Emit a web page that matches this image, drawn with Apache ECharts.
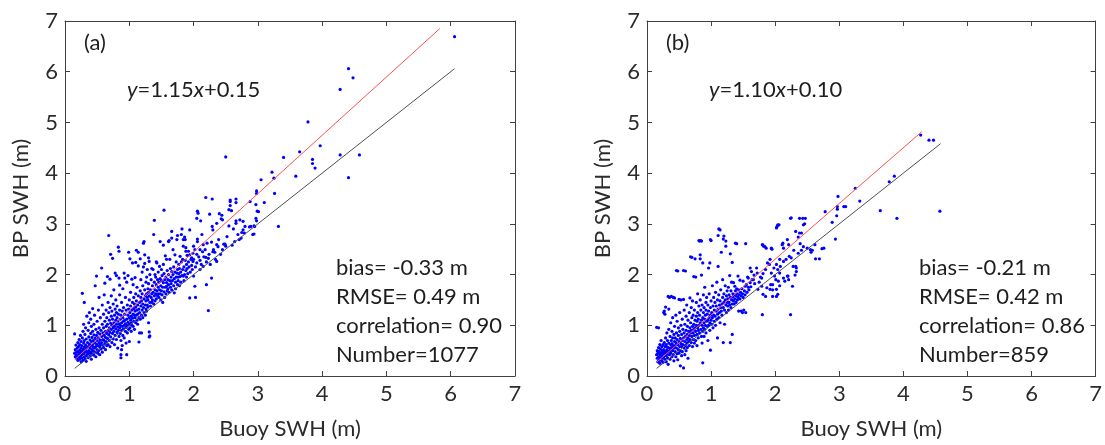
<!DOCTYPE html>
<html><head><meta charset="utf-8">
<script src="https://cdn.jsdelivr.net/npm/echarts@6/dist/echarts.min.js"></script>
<style>html,body{margin:0;padding:0;background:#fff}#c{width:1105px;height:445px}</style>
</head><body><div id="c"></div>
<script>
// ---------- data ----------
const tickLabels = ['0','1','2','3','4','5','6','7'];
const xTitle = 'Buoy SWH (m)';
const yTitle = 'BP SWH (m)';
const panelLabels = ['(a)', '(b)'];
const fitLabels = ['{i|y}=1.15{i|x}+0.15', '{i|y}=1.10{i|x}+0.10'];
const statsA = ['bias= -0.33 m', 'RMSE= 0.49 m', 'correlation= 0.90', 'Number=1077'];
const statsB = ['bias= -0.21 m', 'RMSE= 0.42 m', 'correlation= 0.86', 'Number=859'];

const oneToOneA = [[0.15, 0.15], [6.06, 6.06]];
const fitLineA = [[0.15, 0.32], [5.83, 6.85]];
const oneToOneB = [[0.15, 0.15], [4.58, 4.58]];
const fitLineB = [[0.15, 0.27], [4.29, 4.82]];

const pointsA = [
[0.15,0.83],[0.15,0.45],[0.16,0.38],[0.16,0.52],[0.17,0.42],[0.17,0.61],[0.18,0.35],[0.18,0.47],[0.19,0.55],[0.19,0.40],[0.2,0.31],[0.2,0.66],[0.2,0.48],[0.21,0.37],[0.21,0.58],[0.22,0.44],[0.22,0.72],[0.23,0.33],[0.23,0.51],[0.23,0.62],[0.24,0.39],[0.24,0.46],[0.24,0.8],[0.25,0.28],[0.25,0.55],[0.25,0.68],
[0.26,0.42],[0.26,0.36],[0.26,0.6],[0.27,0.49],[0.27,0.75],[0.27,1.63],[0.28,0.31],[0.28,0.53],[0.28,0.88],[0.29,0.44],[0.29,0.65],[0.29,1.02],[0.3,0.38],[0.3,0.57],[0.3,1.45],[0.3,0.7],[0.31,0.47],[0.31,0.34],[0.31,0.82],[0.32,0.52],[0.32,0.61],[0.32,0.95],[0.33,0.4],[0.33,0.73],[0.33,0.29],[0.34,0.56],[0.34,0.48],[0.34,1.18],[0.35,0.66],[0.35,0.43],
[0.36,0.36],[0.36,0.58],[0.36,0.9],[0.37,0.5],[0.37,0.77],[0.37,1.05],[0.38,0.45],[0.38,0.63],[0.38,1.25],[0.39,0.39],[0.39,0.71],[0.39,0.55],[0.4,0.84],[0.4,0.47],[0.4,0.6],[0.4,1.12],[0.41,0.33],[0.41,0.68],[0.41,0.98],[0.42,0.52],[0.42,0.76],[0.42,0.43],[0.43,0.62],[0.43,0.88],[0.43,1.33],[0.44,0.49],[0.44,0.7],[0.44,0.57],[0.45,0.81],[0.45,1.02],[0.45,0.41],
[0.46,0.55],[0.46,0.66],[0.46,1.2],[0.47,0.47],[0.47,0.74],[0.47,1.78],[0.48,0.58],[0.48,0.92],[0.48,0.38],[0.49,0.63],[0.49,0.8],[0.49,1.97],[0.5,0.52],[0.5,0.7],[0.5,1.08],[0.51,0.45],[0.51,0.86],[0.51,0.6],[0.52,0.75],[0.52,1.3],[0.52,0.5],[0.53,0.66],[0.53,0.95],[0.53,1.55],[0.54,0.57],[0.54,0.83],[0.54,0.42],[0.55,0.71],[0.55,1.15],[0.55,0.62],
[0.56,0.53],[0.56,0.9],[0.57,2.13],[0.57,0.78],[0.57,0.66],[0.58,1.02],[0.58,0.47],[0.58,1.4],[0.59,0.72],[0.59,0.6],[0.59,0.85],[0.6,1.22],[0.6,0.56],[0.6,0.95],[0.61,0.7],[0.61,1.6],[0.61,0.8],[0.62,1.83],[0.62,0.64],[0.62,1.08],[0.63,0.76],[0.63,0.88],[0.63,0.52],[0.64,1.3],[0.64,0.98],[0.64,0.68],[0.65,0.84],[0.65,1.15],[0.65,0.6],
[0.66,1.96],[0.66,0.74],[0.66,1.02],[0.67,0.9],[0.67,1.45],[0.67,0.62],[0.68,2.77],[0.68,0.81],[0.68,1.25],[0.69,1.1],[0.69,0.7],[0.69,0.95],[0.7,1.91],[0.7,0.58],[0.7,1.35],[0.7,0.86],[0.71,2.4],[0.71,1.04],[0.71,0.77],[0.72,1.18],[0.72,0.92],[0.72,1.58],[0.73,0.66],[0.73,1.0],[0.73,1.28],[0.74,2.32],[0.74,0.84],[0.74,1.12],[0.75,0.95],[0.75,1.42],[0.75,0.73],
[0.76,1.05],[0.76,0.88],[0.76,1.7],[0.77,1.2],[0.77,0.62],[0.77,0.98],[0.78,2.03],[0.78,1.32],[0.78,0.8],[0.79,1.1],[0.79,0.93],[0.79,1.5],[0.8,1.98],[0.8,1.02],[0.8,0.72],[0.8,1.25],[0.81,0.86],[0.81,1.15],[0.81,1.38],[0.82,0.97],[0.82,0.55],[0.82,1.08],[0.83,2.54],[0.83,1.22],[0.83,0.9],[0.84,2.46],[0.84,1.93],[0.84,1.03],[0.84,0.78],[0.85,1.79],[0.85,1.3],[0.85,0.95],[0.85,1.6],
[0.86,1.12],[0.86,0.84],[0.86,1.0],[0.87,0.36],[0.87,0.42],[0.87,1.2],[0.87,0.7],[0.88,0.52],[0.88,1.05],[0.88,1.45],[0.88,0.9],[0.89,1.28],[0.89,0.6],[0.89,0.98],[0.9,1.15],[0.9,1.72],[0.9,0.8],[0.91,1.08],[0.91,0.93],[0.91,1.35],[0.92,2.03],[0.92,1.0],[0.92,0.75],[0.93,1.93],[0.93,1.22],[0.93,1.1],[0.94,0.88],[0.94,1.55],[0.94,1.03],[0.95,1.3],[0.95,0.96],[0.95,0.65],
[0.96,1.85],[0.96,0.42],[0.96,1.12],[0.97,1.0],[0.97,1.4],[0.97,0.85],[0.98,1.98],[0.98,1.2],[0.98,1.06],[0.99,2.44],[0.99,0.92],[0.99,1.32],[1.0,0.68],[1.0,1.15],[1.0,1.5],[1.0,1.02],[1.01,2.31],[1.01,1.25],[1.01,0.95],[1.02,1.1],[1.02,1.65],[1.02,1.38],[1.03,0.88],[1.03,1.18],[1.03,1.05],[1.04,1.91],[1.04,1.3],[1.04,1.0],[1.05,2.23],[1.05,1.45],[1.05,1.14],
[1.06,1.22],[1.06,0.98],[1.06,1.8],[1.07,1.33],[1.07,1.08],[1.07,1.55],[1.08,1.2],[1.08,0.92],[1.08,1.42],[1.09,1.94],[1.09,1.15],[1.09,1.28],[1.1,2.24],[1.1,1.05],[1.1,1.62],[1.1,1.36],[1.11,2.48],[1.11,1.2],[1.11,1.48],[1.12,1.1],[1.12,1.3],[1.12,1.75],[1.13,1.4],[1.13,1.02],[1.13,1.22],[1.14,2.44],[1.14,2.17],[1.14,1.58],[1.15,0.67],[1.15,1.32],[1.15,1.15],
[1.16,0.85],[1.16,1.45],[1.16,1.25],[1.17,2.31],[1.17,1.68],[1.17,1.12],[1.18,1.38],[1.18,1.55],[1.18,1.9],[1.19,0.85],[1.19,1.2],[1.19,1.48],[1.2,1.3],[1.2,1.62],[1.2,2.05],[1.21,1.42],[1.21,1.15],[1.21,1.78],[1.22,2.15],[1.22,2.62],[1.22,1.35],[1.23,2.65],[1.23,1.52],[1.23,1.25],[1.24,2.39],[1.24,2.22],[1.24,1.7],[1.25,1.4],[1.25,1.58],[1.25,1.2],
[1.26,1.85],[1.26,1.48],[1.26,1.32],[1.27,1.62],[1.27,1.95],[1.27,1.28],[1.28,1.55],[1.28,1.4],[1.28,2.1],[1.29,1.72],[1.29,1.5],[1.29,1.36],[1.3,2.33],[1.3,1.05],[1.3,1.65],[1.3,1.82],[1.31,2.26],[1.31,0.77],[1.31,0.87],[1.31,1.58],[1.32,0.79],[1.32,1.45],[1.32,2.0],[1.33,1.7],[1.33,1.38],[1.34,1.9],[1.34,1.55],[1.35,1.62],[1.35,2.12],[1.35,1.45],
[1.36,1.78],[1.36,1.5],[1.37,2.1],[1.37,1.65],[1.38,2.79],[1.38,1.42],[1.39,3.07],[1.39,1.85],[1.39,1.58],[1.4,1.7],[1.4,2.0],[1.4,1.48],[1.41,1.95],[1.41,1.62],[1.42,1.8],[1.42,1.52],[1.42,2.25],[1.43,2.23],[1.43,1.68],[1.44,1.9],[1.44,1.58],[1.45,1.75],[1.45,1.62],[1.45,2.05],
[1.46,1.85],[1.46,1.55],[1.47,2.16],[1.47,1.7],[1.48,2.65],[1.48,1.62],[1.48,1.92],[1.49,1.78],[1.49,1.5],[1.5,1.88],[1.5,1.68],[1.5,2.1],[1.51,1.6],[1.51,1.98],[1.52,1.75],[1.52,1.45],[1.53,2.58],[1.53,2.2],[1.53,1.84],[1.54,3.27],[1.54,1.66],[1.54,2.02],[1.55,1.9],[1.55,1.55],
[1.56,2.37],[1.56,1.75],[1.57,1.62],[1.57,1.95],[1.58,2.3],[1.58,1.84],[1.58,1.77],[1.59,1.68],[1.59,2.08],[1.6,1.9],[1.6,1.72],[1.61,2.65],[1.61,2.0],[1.61,1.8],[1.62,2.67],[1.62,1.65],[1.63,2.3],[1.63,1.88],[1.64,1.75],[1.64,2.12],[1.65,1.95],[1.65,1.82],
[1.66,2.85],[1.66,2.72],[1.66,2.06],[1.66,1.7],[1.67,1.88],[1.68,2.49],[1.68,2.0],[1.69,1.78],[1.69,2.15],[1.7,1.92],[1.7,1.64],[1.71,2.39],[1.71,2.05],[1.72,1.85],[1.72,1.72],[1.73,2.25],[1.73,1.95],[1.74,2.69],[1.74,2.03],[1.75,2.77],[1.75,1.8],[1.75,2.1],
[1.76,1.95],[1.76,1.88],[1.77,2.2],[1.77,2.02],[1.78,1.78],[1.78,2.12],[1.79,2.36],[1.79,1.96],[1.8,2.05],[1.8,1.85],[1.81,2.79],[1.81,2.25],[1.82,2.9],[1.82,1.98],[1.83,2.3],[1.83,2.1],[1.84,1.97],[1.84,2.56],[1.84,2.69],[1.85,2.15],[1.85,1.88],
[1.86,2.74],[1.86,2.0],[1.87,2.69],[1.87,2.28],[1.88,2.46],[1.88,2.53],[1.88,2.08],[1.89,2.2],[1.89,1.95],[1.9,2.38],[1.9,2.12],[1.91,2.02],[1.92,2.46],[1.92,2.25],[1.93,2.15],[1.94,2.88],[1.94,2.39],[1.94,1.54],[1.95,2.05],[1.96,2.3],[1.97,2.33],[1.97,2.18],[1.98,2.1],[1.99,2.42],[1.99,2.26],[2.0,2.56],[2.0,2.3],[2.0,1.97],
[2.02,2.49],[2.02,1.77],[2.03,1.55],[2.03,2.15],[2.05,3.11],[2.05,2.23],[2.05,2.4],[2.06,3.25],[2.06,2.7],[2.06,2.65],[2.07,3.21],[2.08,2.35],[2.1,2.49],[2.1,2.1],[2.1,2.28],[2.11,3.06],[2.12,2.2],[2.13,2.79],[2.14,2.45],[2.15,2.59],[2.15,2.16],[2.16,2.35],[2.18,2.49],[2.19,2.34],[2.19,3.52],[2.2,1.8],[2.2,2.25],[2.21,2.62],[2.23,2.32],[2.23,1.29],[2.24,2.4],[2.25,3.19],[2.26,2.2],[2.28,2.64],[2.28,1.93],[2.29,2.95],[2.29,3.49],[2.3,2.88],[2.3,2.45],[2.31,2.49],[2.33,2.44],[2.34,2.3],[2.36,3.01],[2.36,2.59],[2.36,2.26],[2.38,2.55],[2.39,2.69],[2.4,3.2],[2.42,2.4],[2.43,3.1],[2.44,3.17],[2.45,3.08],[2.45,2.49],[2.47,2.6],[2.49,2.6],[2.5,2.56],[2.5,4.32],
[2.52,2.75],[2.55,2.96],[2.55,3.28],[2.57,3.36],[2.57,3.47],[2.57,3.44],[2.59,3.26],[2.6,2.58],[2.62,2.9],[2.64,2.65],[2.66,3.49],[2.66,3.42],[2.66,3.06],[2.66,3.01],[2.69,2.79],[2.71,2.69],[2.72,3.08],[2.74,2.72],[2.75,2.83],[2.77,2.88],[2.77,3.05],[2.79,2.82],[2.8,2.95],[2.87,2.94],[2.88,3.44],[2.89,2.95],[2.92,2.79],[2.94,2.96],[2.94,2.8],[2.95,2.95],[2.97,3.11],[2.97,3.38],[2.98,3.65],[2.98,3.6],[2.98,3.06],[2.99,3.25],[3.01,3.24],[3.05,3.87],[3.1,3.42],
[3.22,4.02],[3.25,3.9],[3.26,3.6],[3.32,2.95],[3.4,4.31],[3.59,3.94],[3.65,4.42],[3.78,5.01],[3.85,4.27],[3.85,4.19],[3.89,4.1],[3.97,4.54],[4.28,5.65],[4.28,4.36],[4.41,6.06],[4.41,3.91],[4.48,5.88],[4.58,4.36],[6.06,6.69]
];

const pointsB = [
[0.15,0.96],[0.15,0.42],[0.16,0.35],[0.16,0.5],[0.17,0.28],[0.17,0.45],[0.18,0.95],[0.18,0.38],[0.18,0.56],[0.19,0.31],[0.19,0.48],[0.2,0.42],[0.2,0.62],[0.2,0.25],[0.21,0.36],[0.21,0.53],[0.22,0.45],[0.22,0.7],[0.23,0.3],[0.23,0.4],[0.23,0.58],[0.24,0.49],[0.24,0.35],[0.25,0.62],[0.25,0.44],[0.25,0.27],
[0.26,1.25],[0.26,0.38],[0.26,0.52],[0.27,1.28],[0.27,0.45],[0.27,0.66],[0.28,1.22],[0.28,0.33],[0.28,0.58],[0.29,1.36],[0.29,0.48],[0.29,0.75],[0.3,0.4],[0.3,0.62],[0.3,0.28],[0.31,0.52],[0.31,0.85],[0.31,0.44],[0.32,0.7],[0.32,0.36],[0.32,0.57],[0.33,0.23],[0.33,1.57],[0.33,0.48],[0.34,1.32],[0.34,0.65],[0.34,0.92],[0.35,1.55],[0.35,0.42],[0.35,0.55],
[0.36,0.78],[0.36,0.5],[0.36,0.33],[0.37,0.62],[0.37,1.05],[0.37,0.45],[0.38,1.57],[0.38,0.7],[0.38,0.56],[0.39,0.38],[0.39,0.88],[0.39,0.64],[0.4,0.5],[0.4,1.15],[0.4,0.75],[0.41,1.55],[0.41,0.42],[0.41,0.6],[0.42,0.82],[0.42,0.55],[0.42,0.3],[0.43,1.54],[0.43,0.68],[0.43,0.98],[0.44,0.48],[0.44,0.6],[0.44,0.75],[0.45,1.2],[0.45,0.38],[0.45,0.66],
[0.46,2.08],[0.46,0.55],[0.46,0.85],[0.47,0.72],[0.47,0.44],[0.47,1.08],[0.48,2.07],[0.48,0.62],[0.48,0.32],[0.49,0.8],[0.49,0.52],[0.49,0.95],[0.5,1.51],[0.5,0.68],[0.5,0.45],[0.51,0.58],[0.51,0.88],[0.51,1.25],[0.52,0.2],[0.52,0.74],[0.52,0.5],[0.53,1.5],[0.53,0.64],[0.53,1.0],[0.54,0.4],[0.54,0.82],[0.54,0.58],[0.55,0.7],[0.55,1.12],[0.55,0.48],
[0.56,0.62],[0.56,0.92],[0.57,2.08],[0.57,0.16],[0.57,0.75],[0.57,1.51],[0.58,0.55],[0.58,0.85],[0.58,1.3],[0.59,0.68],[0.59,0.42],[0.59,1.02],[0.6,2.07],[0.6,0.78],[0.6,0.6],[0.61,0.9],[0.61,1.18],[0.61,0.5],[0.62,0.72],[0.62,0.65],[0.62,1.4],[0.63,0.82],[0.63,0.98],[0.63,0.56],[0.64,0.75],[0.64,1.1],[0.64,0.35],[0.65,0.88],[0.65,0.68],
[0.66,1.25],[0.66,0.8],[0.66,0.6],[0.67,1.54],[0.67,0.95],[0.67,0.72],[0.68,2.35],[0.68,0.85],[0.68,1.05],[0.69,0.66],[0.69,1.35],[0.69,0.9],[0.7,2.34],[0.7,0.78],[0.7,1.15],[0.71,1.48],[0.71,0.98],[0.71,0.58],[0.72,0.85],[0.72,1.2],[0.72,0.72],[0.73,1.96],[0.73,1.02],[0.73,0.92],[0.74,0.65],[0.74,1.3],[0.74,0.8],[0.75,2.31],[0.75,1.1],[0.75,0.95],
[0.76,1.95],[0.76,0.88],[0.76,0.7],[0.77,1.0],[0.77,1.45],[0.77,1.18],[0.78,0.82],[0.78,1.08],[0.78,0.6],[0.79,1.25],[0.79,0.95],[0.79,1.62],[0.8,0.9],[0.8,1.12],[0.8,0.75],[0.81,2.67],[0.81,1.38],[0.81,1.0],[0.82,2.66],[0.82,0.85],[0.82,1.2],[0.83,2.39],[0.83,2.31],[0.83,1.05],[0.83,1.5],[0.84,2.67],[0.84,0.92],[0.84,1.3],[0.85,2.66],[0.85,1.99],[0.85,1.1],[0.85,0.78],
[0.86,1.0],[0.86,1.4],[0.86,0.65],[0.87,2.23],[0.87,0.26],[0.87,1.15],[0.87,0.88],[0.88,1.25],[0.88,1.6],[0.88,0.95],[0.89,1.05],[0.89,0.78],[0.89,1.35],[0.9,1.12],[0.9,0.92],[0.9,1.75],[0.91,1.2],[0.91,1.0],[0.92,1.45],[0.92,0.85],[0.92,1.3],[0.93,1.08],[0.93,1.55],[0.94,0.98],[0.94,1.22],[0.95,1.4],[0.95,1.1],[0.95,0.7],
[0.96,2.13],[0.96,1.0],[0.96,1.28],[0.97,1.15],[0.97,1.62],[0.98,2.23],[0.98,1.05],[0.98,0.9],[0.99,2.69],[0.99,0.51],[0.99,1.35],[0.99,1.2],[1.0,2.67],[1.0,1.1],[1.0,1.48],[1.01,1.02],[1.01,1.25],[1.02,1.78],[1.02,1.15],[1.03,1.38],[1.03,0.95],[1.04,1.2],[1.04,1.55],[1.05,1.08],[1.05,1.3],
[1.06,1.45],[1.06,1.18],[1.07,1.0],[1.07,1.65],[1.08,1.28],[1.08,1.38],[1.09,1.12],[1.09,1.85],[1.1,0.75],[1.1,1.5],[1.1,1.22],[1.11,2.77],[1.11,2.16],[1.11,1.32],[1.12,2.9],[1.12,1.15],[1.12,1.6],[1.13,1.4],[1.13,1.25],[1.14,2.88],[1.14,1.05],[1.14,1.48],[1.15,1.35],[1.15,1.7],
[1.16,2.44],[1.16,1.28],[1.17,1.42],[1.17,1.2],[1.18,1.55],[1.18,1.9],[1.19,2.7],[1.19,0.66],[1.19,1.35],[1.2,2.76],[1.2,1.45],[1.2,1.62],[1.21,1.02],[1.21,1.3],[1.22,1.5],[1.22,1.78],[1.23,2.56],[1.23,2.66],[1.23,1.4],[1.24,1.58],[1.24,1.25],[1.25,1.45],[1.25,1.68],
[1.26,1.38],[1.26,1.52],[1.27,1.75],[1.27,1.3],[1.28,1.6],[1.28,1.45],[1.29,1.98],[1.29,1.4],[1.3,2.41],[1.3,0.66],[1.3,1.55],[1.31,1.68],[1.31,1.35],[1.32,1.5],[1.32,1.85],[1.33,2.24],[1.33,0.82],[1.33,1.42],[1.34,1.62],[1.34,1.56],[1.35,1.84],[1.35,1.48],
[1.36,1.6],[1.36,1.42],[1.37,1.77],[1.37,1.52],[1.38,2.62],[1.38,1.68],[1.39,1.45],[1.39,1.58],[1.4,2.61],[1.4,1.72],[1.41,1.5],[1.41,1.62],[1.42,1.97],[1.42,1.55],[1.43,1.28],[1.43,1.7],[1.44,1.6],[1.45,1.89],[1.45,1.52],
[1.46,1.65],[1.47,1.28],[1.47,1.58],[1.48,1.72],[1.49,1.25],[1.49,1.62],[1.5,1.87],[1.5,1.55],[1.51,1.3],[1.52,1.68],[1.53,1.77],[1.53,1.6],[1.54,2.61],[1.54,1.25],[1.55,1.8],[1.56,1.65],[1.57,1.95],[1.58,1.93],[1.58,1.75],[1.59,1.7],
[1.61,2.13],[1.61,1.84],[1.62,1.76],[1.63,2.06],[1.64,1.9],[1.66,1.9],[1.67,1.99],[1.68,1.82],[1.71,2.13],[1.72,2.03],[1.73,1.71],[1.75,1.85],[1.77,1.95],[1.79,1.93],[1.79,1.77],[1.8,2.59],[1.8,1.21],[1.81,2.58],[1.81,2.02],[1.81,1.61],[1.82,2.56],[1.84,2.55],[1.85,2.1],[1.85,1.57],[1.86,2.52],[1.87,1.74],[1.88,2.23],[1.91,2.2],[1.92,2.3],[1.92,1.71],[1.93,1.8],[1.94,2.52],[1.94,2.03],[1.95,2.5],[1.96,1.7],[1.96,1.8],[1.96,1.57],[1.98,2.13],[1.99,1.97],[2.01,1.9],[2.02,2.92],[2.02,2.2],[2.02,1.71],[2.02,1.57],[2.03,2.95],[2.04,2.98],[2.04,2.1],[2.04,1.61],[2.05,1.87],[2.06,2.98],[2.07,2.3],[2.07,2.03],[2.07,1.78],[2.08,2.16],
[2.11,2.59],[2.12,2.62],[2.13,2.52],[2.13,2.26],[2.13,1.93],[2.15,1.87],[2.17,2.3],[2.19,2.69],[2.19,1.97],[2.2,1.97],[2.21,2.59],[2.21,1.9],[2.22,2.36],[2.24,3.11],[2.24,1.21],[2.25,2.33],[2.25,3.12],[2.27,1.77],[2.28,2.16],[2.29,2.48],[2.31,1.99],[2.32,2.85],[2.32,2.16],[2.33,2.06],[2.33,2.13],[2.36,2.74],[2.36,2.42],[2.38,3.11],[2.38,2.82],[2.39,2.61],[2.41,2.48],[2.41,2.82],[2.43,3.11],[2.44,2.55],[2.44,2.98],[2.46,3.0],[2.47,3.11],[2.5,2.52],[2.55,2.49],[2.56,2.44],[2.58,2.48],[2.62,2.59],[2.63,2.31],[2.69,2.31],[2.73,2.51],[2.76,2.52],[2.78,3.24],[2.89,3.03],[2.94,2.7],[2.96,3.16],
[2.97,3.34],[2.97,3.29],[2.98,3.54],[3.07,3.34],[3.1,3.34],[3.25,3.7],[3.32,3.45],[3.64,3.26],[3.78,3.83],[3.86,3.94],[3.9,3.11],[4.27,4.75],[4.4,4.65],[4.47,4.65],[4.57,3.25]
];

// ---------- chart ----------
const FONT = 'Lato, "Open Sans", "Liberation Sans", sans-serif';
const AX = '#404040';
const TXT = '#1e1e1e';
const LBL = '#2b2b2b';
const FS = 22;

const grids = [
  {left: 65, top: 21, width: 450, height: 356},
  {left: 647, top: 21, width: 450, height: 356}
];

function xAx(g, pos) {
  const main = pos === 'bottom';
  return {
    gridIndex: g, type: 'value', position: pos, min: 0, max: 7, interval: 1,
    axisLine: {show: true, onZero: false, lineStyle: {color: AX, width: 1}},
    axisTick: {show: true, inside: true, length: 5, lineStyle: {color: AX}},
    axisLabel: {show: main, margin: 7, color: LBL, fontSize: FS, fontFamily: FONT,
      formatter: v => tickLabels[Math.round(v)]},
    splitLine: {show: false},
    name: main ? xTitle : '', nameLocation: 'middle', nameGap: 42,
    nameTextStyle: {color: LBL, fontSize: FS, fontFamily: FONT}
  };
}
function yAx(g, pos) {
  const main = pos === 'left';
  return {
    gridIndex: g, type: 'value', position: pos, min: 0, max: 7, interval: 1,
    axisLine: {show: true, onZero: false, lineStyle: {color: AX, width: 1}},
    axisTick: {show: true, inside: true, length: 5, lineStyle: {color: AX}},
    axisLabel: {show: main, margin: 7, color: LBL, fontSize: FS, fontFamily: FONT,
      formatter: v => tickLabels[Math.round(v)]},
    splitLine: {show: false},
    name: main ? yTitle : '', nameLocation: 'middle', nameGap: 33,
    nameTextStyle: {color: LBL, fontSize: FS, fontFamily: FONT}
  };
}

const xAxes = [xAx(0,'bottom'), xAx(0,'top'), xAx(1,'bottom'), xAx(1,'top')];
const yAxes = [yAx(0,'left'), yAx(0,'right'), yAx(1,'left'), yAx(1,'right')];

function scatter(data, xi, yi) {
  return {type: 'scatter', xAxisIndex: xi, yAxisIndex: yi, data: data, symbol: 'circle',
    symbolSize: 3.2, itemStyle: {color: '#0000ff', opacity: 1}, silent: true, z: 2, animation: false};
}
function line(data, xi, yi, color) {
  return {type: 'line', xAxisIndex: xi, yAxisIndex: yi, data: data, symbol: 'none',
    lineStyle: {color: color, width: 1}, silent: true, z: 3, animation: false};
}

const series = [
  scatter(pointsA, 0, 0),
  line(oneToOneA, 0, 0, '#505050'),
  line(fitLineA, 0, 0, '#ff5050'),
  scatter(pointsB, 2, 2),
  line(oneToOneB, 2, 2, '#505050'),
  line(fitLineB, 2, 2, '#ff5050')
];

function txt(text, x, y, rich) {
  const st = {text: text, x: x, y: y, fill: TXT, fontSize: FS, fontFamily: FONT, verticalAlign: 'middle'};
  if (rich) st.rich = {i: {fontStyle: 'italic', fontSize: FS, fontFamily: FONT, fill: TXT}};
  return {type: 'text', style: st, z: 10, silent: true};
}
const statRows = [268, 297, 326, 355];
const graphics = [
  txt(panelLabels[0], 84, 43),
  txt(fitLabels[0], 127, 90, true),
  txt(panelLabels[1], 666, 43),
  txt(fitLabels[1], 709, 90, true)
];
statsA.forEach((s, i) => graphics.push(txt(s, 336, statRows[i])));
statsB.forEach((s, i) => graphics.push(txt(s, 919, statRows[i])));

const chart = echarts.init(document.getElementById('c'), null, {renderer: 'canvas'});
chart.setOption({
  backgroundColor: '#ffffff',
  animation: false,
  grid: grids,
  xAxis: xAxes,
  yAxis: yAxes,
  series: series,
  graphic: graphics
});
</script>
</body></html>
